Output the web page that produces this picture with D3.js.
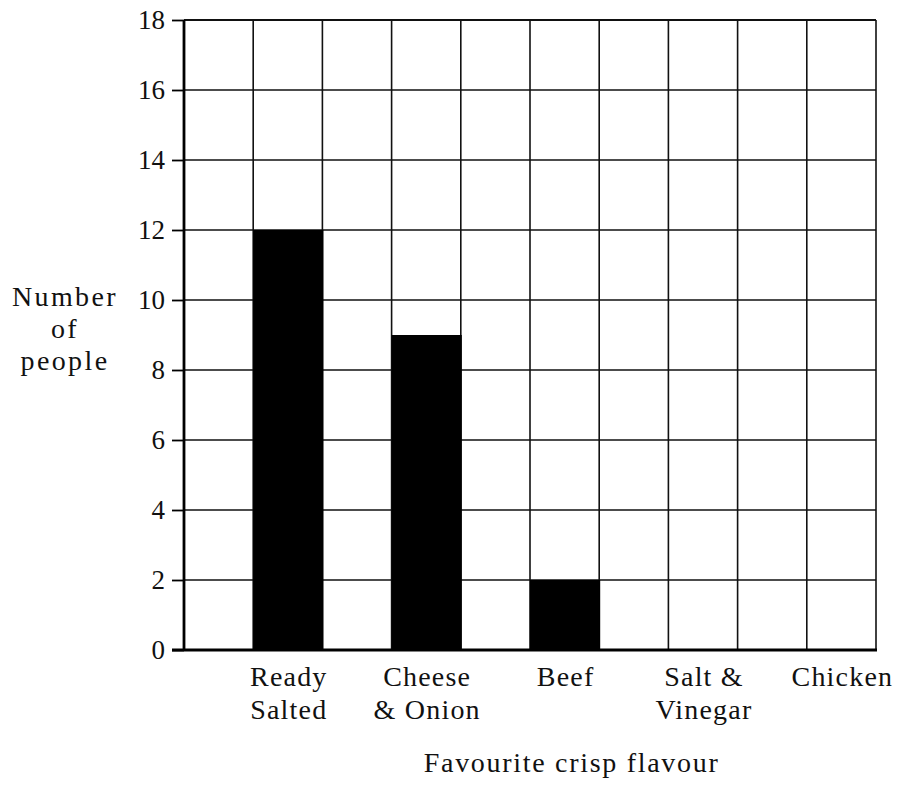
<!DOCTYPE html>
<html>
<head>
<meta charset="utf-8">
<script src="https://cdn.jsdelivr.net/npm/d3@7"></script>
<style>
  body { margin: 0; background: #fff; }
</style>
</head>
<body>
<script>
const flavours = ["Ready Salted", "Cheese & Onion", "Beef", "Salt & Vinegar", "Chicken"];
const labelLines = [["Ready", "Salted"], ["Cheese", "& Onion"], ["Beef"], ["Salt &", "Vinegar"], ["Chicken"]];
const people = [12, 9, 2, 0, 0];
const yTicks = [0, 2, 4, 6, 8, 10, 12, 14, 16, 18];

const serif = "'Liberation Serif'";

const width = 903, height = 786;
const margin = { top: 20, right: 27, bottom: 136, left: 184 };
const plotW = width - margin.left - margin.right,
    plotH = height - margin.top - margin.bottom;

const data = flavours.map((f, i) => ({ flavour: f, value: people[i], lines: labelLines[i] }));

const xScale = d3.scaleBand()
    .domain(flavours)
    .range([0, plotW])
    .padding(0);

const yScale = d3.scaleLinear()
    .domain([0, 18])
    .range([plotH, 0]);

const svg = d3.select("body").append("svg")
    .attr("width", width)
    .attr("height", height);

const g = svg.append("g")
    .attr("transform", "translate(" + margin.left + "," + margin.top + ")");

const bw = xScale.bandwidth();

// horizontal grid lines
g.selectAll("line.hgrid")
    .data(yTicks.slice(1))
    .enter().append("line")
    .attr("class", "hgrid")
    .attr("x1", 0)
    .attr("x2", plotW)
    .attr("y1", d => yScale(d))
    .attr("y2", d => yScale(d))
    .attr("stroke", "#111")
    .attr("stroke-width", d => d === 18 ? 2.2 : 1.6);

// vertical grid lines, two per category
const colX = [];
flavours.forEach(f => { colX.push(xScale(f), xScale(f) + bw / 2); });
colX.push(plotW);
g.selectAll("line.vgrid")
    .data(colX.slice(1))
    .enter().append("line")
    .attr("class", "vgrid")
    .attr("x1", d => d)
    .attr("x2", d => d)
    .attr("y1", yScale(18))
    .attr("y2", yScale(0))
    .attr("stroke", "#111")
    .attr("stroke-width", 1.6);

// bars
g.selectAll("rect")
    .data(data)
    .enter().append("rect")
    .attr("x", d => xScale(d.flavour) + bw / 2)
    .attr("y", d => yScale(d.value))
    .attr("width", bw / 2 + 1)
    .attr("height", d => plotH - yScale(d.value))
    .attr("fill", "#000");

// y axis
const yAxis = g.append("g")
    .call(d3.axisLeft(yScale).tickValues(yTicks).tickSize(12).tickPadding(7));
yAxis.attr("font-family", null).attr("font-size", null);
yAxis.select(".domain").attr("stroke", "#000").attr("stroke-width", 2.8).attr("d", "M0," + yScale(18) + "V" + (yScale(0) + 1));
yAxis.selectAll(".tick line").attr("stroke", "#000").attr("stroke-width", 1.8);
yAxis.selectAll(".tick text")
    .attr("font-family", serif)
    .attr("font-size", 27)
    .attr("fill", "#111");

// x axis line
g.append("line")
    .attr("x1", -12)
    .attr("x2", plotW + 1)
    .attr("y1", plotH)
    .attr("y2", plotH)
    .attr("stroke", "#000")
    .attr("stroke-width", 3);

// category labels
const lab = g.selectAll("text.cat")
    .data(data)
    .enter().append("text")
    .attr("class", "cat")
    .attr("text-anchor", "middle")
    .attr("fill", "#111")
    .attr("font-family", serif)
    .attr("font-size", 28)
    .attr("letter-spacing", 1.2)
    .attr("transform", d => "translate(" + (xScale(d.flavour) + bw * 0.75 + 1) + "," + (plotH + 36) + ")");
lab.selectAll("tspan")
    .data(d => d.lines)
    .enter().append("tspan")
    .attr("x", 0)
    .attr("dy", (d, i) => i === 0 ? 0 : 33)
    .text(d => d);

// x axis title
g.append("text")
    .attr("x", xScale("Beef") + bw * 0.75 + 7)
    .attr("y", plotH + 122)
    .attr("text-anchor", "middle")
    .attr("fill", "#111")
    .attr("font-family", serif)
    .attr("font-size", 28)
    .attr("letter-spacing", 1.7)
    .text("Favourite crisp flavour");

// y axis title
const yt = svg.append("text")
    .attr("text-anchor", "middle")
    .attr("fill", "#111")
    .attr("font-family", serif)
    .attr("font-size", 28)
    .attr("letter-spacing", 2.4)
    .attr("transform", "translate(65,306)");
yt.selectAll("tspan")
    .data(["Number", "of", "people"])
    .enter().append("tspan")
    .attr("x", 0)
    .attr("dy", (d, i) => i === 0 ? 0 : 32)
    .text(d => d);
</script>
</body>
</html>
